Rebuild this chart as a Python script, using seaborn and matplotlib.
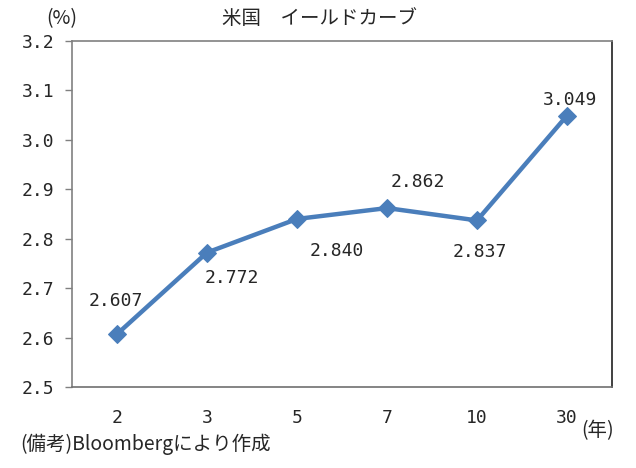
import matplotlib
matplotlib.use("Agg")
import matplotlib.pyplot as plt
import seaborn as sns
import pandas as pd

maturities = ["2", "3", "5", "7", "10", "30"]
yields = [2.607, 2.772, 2.840, 2.862, 2.837, 3.049]
labels = ["2.607", "2.772", "2.840", "2.862", "2.837", "3.049"]
y_ticks = [2.5, 2.6, 2.7, 2.8, 2.9, 3.0, 3.1, 3.2]
y_ticklabels = ["2.5", "2.6", "2.7", "2.8", "2.9", "3.0", "3.1", "3.2"]

sns.set_style("white")
plt.rcParams['font.family'] = ['DejaVu Sans Mono', 'Noto Sans CJK JP']

df = pd.DataFrame({"maturity": maturities, "yield": yields})

fig = plt.figure(figsize=(6.36, 4.68), dpi=100)
ax = fig.add_axes([72/636, 1-387/468, (612-72)/636, (387-41)/468])

color = "#4a7ebb"
sns.lineplot(data=df, x="maturity", y="yield", sort=False, ax=ax, color=color,
             linewidth=3.2, marker="D", markersize=9, markeredgecolor=color,
             markerfacecolor=color)

ax.set_xlim(-0.5, 5.5)
ax.set_ylim(2.5, 3.2)
ax.set_yticks(y_ticks)
ax.set_yticklabels(y_ticklabels)
ax.set_xlabel("")
ax.set_ylabel("")
ax.tick_params(axis="y", left=True, length=5, width=1, color="#808080", labelsize=13, pad=8)
ax.tick_params(axis="x", bottom=False, labelsize=13, pad=12)
for s in ax.spines.values():
    s.set_visible(True)
    s.set_color("#808080")
    s.set_linewidth(1.2)
ax.spines["right"].set_color("#202020")
ax.spines["bottom"].set_color("#707070")

offsets = {
    0: (-1, 24),
    1: (18, -18),
    2: (29, -23),
    3: (22, 19),
    4: (2, -23),
    5: (2, 11),
}
for i, (lab, v) in enumerate(zip(labels, yields)):
    dx, dy = offsets[i]
    ax.annotate(lab, xy=(i, v), xytext=(dx, dy), textcoords="offset points",
                ha="center", va="center", fontsize=13)

fig.text(320/636, 1-18/468, "米国　イールドカーブ", ha="center", va="center",
         fontsize=14, family=['Noto Sans CJK JP'])
fig.text(62/636, 1-19/468, "(%)", ha="center", va="center", fontsize=14,
         family=['Noto Sans CJK JP'])
fig.text(598/636, 1-431/468, "(年)", ha="center", va="center", fontsize=14,
         family=['Noto Sans CJK JP'])
fig.text(20/636, 1-444/468, "(備考)Bloombergにより作成", ha="left", va="center",
         fontsize=14, family=['Noto Sans CJK JP'])

fig.savefig("out.png", dpi=100, facecolor="white")
